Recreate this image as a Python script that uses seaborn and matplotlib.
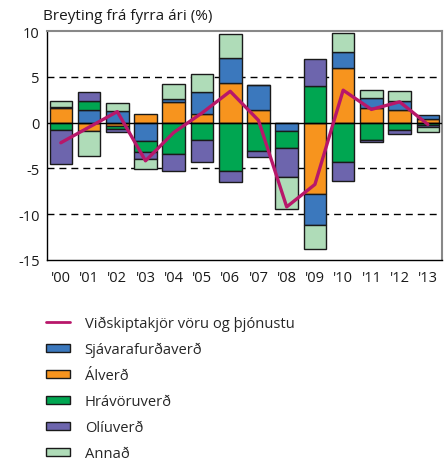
import numpy as np
import matplotlib
matplotlib.use('Agg')
import matplotlib.pyplot as plt
from matplotlib.lines import Line2D
from matplotlib.patches import Patch
import seaborn as sns

# gögn lesin af myndinni
ar = ["'00", "'01", "'02", "'03", "'04", "'05", "'06", "'07", "'08", "'09", "'10", "'11", "'12", "'13"]

alverd = [1.55, -0.9, -0.35, 0.94, 2.23, 0.94, 4.28, 1.4, 0.0, -7.79, 5.98, 1.62, 1.37, 0.35]
sjavar = [0.1, 1.37, 1.3, -2.0, 0.3, 2.44, 2.73, 2.66, -0.9, -3.34, 1.74, 1.08, 0.97, 0.48]
hravoru = [-0.8, 1.0, -0.4, -1.2, -3.4, -1.85, -5.26, -3.08, -1.82, 3.99, -4.35, -1.87, -0.83, -0.25]
oliu = [-3.7, 0.94, -0.3, -0.8, -1.9, -2.5, -1.26, -0.72, -3.19, 2.99, -2.06, -0.29, -0.36, -0.2]
annad = [0.7, -2.77, 0.8, -1.1, 1.68, 1.98, 2.7, 0.0, -3.5, -2.64, 2.06, 0.9, 1.15, -0.55]

vidskiptakjor = [-2.2, -0.5, 1.2, -4.17, -1.08, 1.05, 3.42, 0.25, -9.2, -6.75, 3.54, 1.44, 2.27, -0.2]

sns.set_style('white')
plt.rcParams['font.family'] = ['Open Sans', 'DejaVu Sans']

litir = {'Sjávarafurðaverð': '#3b78bd',
         'Álverð': '#f7941e',
         'Hrávöruverð': '#00a651',
         'Olíuverð': '#6d65ad',
         'Annað': '#afdcb8'}
linulitur = '#b8176a'

fig = plt.figure(figsize=(4.46, 4.64), dpi=100)
ax = fig.add_axes([0.1047, 0.4375, 0.8863, 0.4935])

x = np.arange(len(ar))
pos = np.zeros(len(ar))
neg = np.zeros(len(ar))
# röðun frá núlli: ál, sjávarafurðir, hrávörur, olía, annað
for nafn, gildi in [('Álverð', alverd), ('Sjávarafurðaverð', sjavar), ('Hrávöruverð', hravoru),
                    ('Olíuverð', oliu), ('Annað', annad)]:
    v = np.array(gildi)
    botn = np.where(v >= 0, pos, neg)
    ax.bar(x, v, width=0.8, bottom=botn, color=litir[nafn], edgecolor='#1a1a1a',
           linewidth=1.0, zorder=2)
    pos = pos + np.where(v >= 0, v, 0)
    neg = neg + np.where(v < 0, v, 0)

for h in [5, -5, -10]:
    ax.axhline(h, color='black', lw=1.0, ls=(0, (5, 3.6)), zorder=1)
ax.axhline(0, color='black', lw=1.0, zorder=3)

sns.lineplot(x=x, y=vidskiptakjor, color=linulitur, lw=2.4, ax=ax, zorder=4)

ax.set_xlim(-0.5, 13.5)
ax.set_ylim(-15, 10)
ax.set_yticks([-15, -10, -5, 0, 5, 10])
ax.set_yticklabels(['-15', '-10', '-5', '0', '5', '10'])
ax.set_xticks(x)
ax.set_xticklabels(ar)
ax.set_xticks(np.arange(-0.5, 14, 1), minor=True)
ax.tick_params(axis='x', which='major', length=0, pad=7, labelsize=10.5, colors='#1a1a1a')
ax.tick_params(axis='x', which='minor', length=7, width=1.0, direction='out', color='black')
ax.tick_params(axis='y', length=0, pad=5, labelsize=10.5, colors='#1a1a1a')

for s in ['left', 'bottom']:
    ax.spines[s].set_color('black')
    ax.spines[s].set_linewidth(1.0)
for s in ['top', 'right']:
    ax.spines[s].set_color('#888888')
    ax.spines[s].set_linewidth(1.5)

fig.text(0.096, 0.957, 'Breyting frá fyrra ári (%)', fontsize=11, va='baseline', ha='left',
         color='#1a1a1a')

handles = [Line2D([0], [0], color=linulitur, lw=2)]
labels = ['Viðskiptakjör vöru og þjónustu']
for nafn in ['Sjávarafurðaverð', 'Álverð', 'Hrávöruverð', 'Olíuverð', 'Annað']:
    handles.append(Patch(facecolor=litir[nafn], edgecolor='#1a1a1a', linewidth=1.0))
    labels.append(nafn)
fig.legend(handles, labels, loc='upper left', bbox_to_anchor=(0.103, 0.318), frameon=False,
           fontsize=10.6, handlelength=1.63, handleheight=0.45, handletextpad=1.0,
           labelspacing=0.75, borderpad=0, borderaxespad=0)

fig.savefig('out.png', dpi=100)
